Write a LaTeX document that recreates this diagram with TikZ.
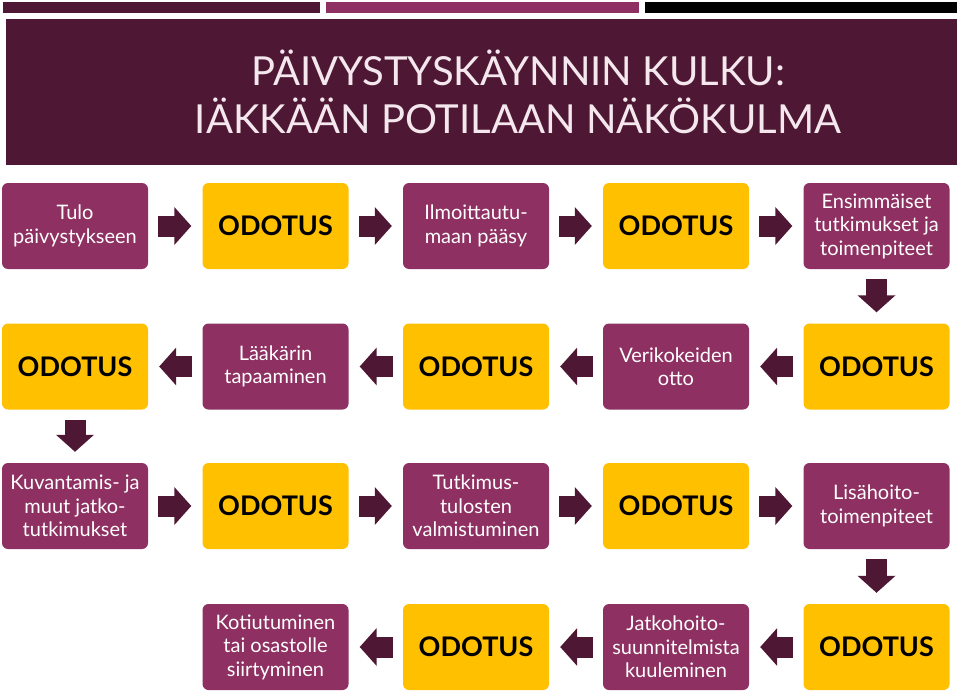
\documentclass[tikz,border=0pt]{standalone}
\usepackage{fontspec}
\setmainfont{Lato}
\usetikzlibrary{arrows.meta}
\definecolor{maroon}{HTML}{4E1733}
\definecolor{plum}{HTML}{8E3061}
\definecolor{gold}{HTML}{FFC000}
\definecolor{titletext}{HTML}{F4E8EE}
\begin{document}
\begin{tikzpicture}[x=1pt,y=-1pt,
 pbox/.style={fill=plum, rounded corners=6pt, minimum width=146pt, minimum height=86pt, text=white, align=center, font=\fontsize{20}{23.5}\selectfont, inner sep=0pt},
 wbox/.style={fill=gold, rounded corners=6pt, minimum width=146pt, minimum height=86pt, text=black, font=\fontsize{27}{30}\selectfont\bfseries, inner sep=0pt},
 flow/.style={draw=maroon, line width=21pt, -{Triangle[length=17pt,width=37pt]}, shorten <=10pt, shorten >=11pt}]
\useasboundingbox (0,0) rectangle (960,695);
% top bars
\fill[maroon] (3,2) rectangle (320,13);
\fill[plum] (326,2) rectangle (639,13);
\fill[black] (645,2) rectangle (957,13);
% title
\node[fill=maroon, minimum width=951pt, minimum height=146pt, inner sep=0pt] (title) at (481.5,92) {};
\node[text=titletext, align=center, font=\fontsize{40}{48}\selectfont] (ttext) at (518,92) {PÄIVYSTYSKÄYNNIN KULKU:\\IÄKKÄÄN POTILAAN NÄKÖKULMA};
% row 1
\node[pbox] (a1) at (75,226) {Tulo\\päivystykseen};
\node[wbox] (a2) at (275.5,226) {ODOTUS};
\node[pbox] (a3) at (476,226) {Ilmoittautu-\\maan pääsy};
\node[wbox] (a4) at (676,226) {ODOTUS};
\node[pbox] (a5) at (876.5,226) {Ensimmäiset\\tutkimukset ja\\toimenpiteet};
% row 2
\node[wbox] (b5) at (876.5,366.5) {ODOTUS};
\node[pbox] (b4) at (676,366.5) {Verikokeiden\\otto};
\node[wbox] (b3) at (476,366.5) {ODOTUS};
\node[pbox] (b2) at (275.5,366.5) {Lääkärin\\tapaaminen};
\node[wbox] (b1) at (75,366.5) {ODOTUS};
% row 3
\node[pbox] (c1) at (75,506) {Kuvantamis- ja\\muut jatko-\\tutkimukset};
\node[wbox] (c2) at (275.5,506) {ODOTUS};
\node[pbox] (c3) at (476,506) {Tutkimus-\\tulosten\\valmistuminen};
\node[wbox] (c4) at (676,506) {ODOTUS};
\node[pbox] (c5) at (876.5,506) {Lisähoito-\\toimenpiteet};
% row 4
\node[wbox] (d5) at (876.5,647) {ODOTUS};
\node[pbox] (d4) at (676,647) {Jatkohoito-\\suunnitelmista\\kuuleminen};
\node[wbox] (d3) at (476,647) {ODOTUS};
\node[pbox] (d2) at (275.5,647) {Kotiutuminen\\tai osastolle\\siirtyminen};
% connectors
\draw[flow] (a1) -- (a2);
\draw[flow] (a2) -- (a3);
\draw[flow] (a3) -- (a4);
\draw[flow] (a4) -- (a5);
\draw[flow] (a5) -- (b5);
\draw[flow] (b5) -- (b4);
\draw[flow] (b4) -- (b3);
\draw[flow] (b3) -- (b2);
\draw[flow] (b2) -- (b1);
\draw[flow] (b1) -- (c1);
\draw[flow] (c1) -- (c2);
\draw[flow] (c2) -- (c3);
\draw[flow] (c3) -- (c4);
\draw[flow] (c4) -- (c5);
\draw[flow] (c5) -- (d5);
\draw[flow] (d5) -- (d4);
\draw[flow] (d4) -- (d3);
\draw[flow] (d3) -- (d2);
\end{tikzpicture}
\end{document}
